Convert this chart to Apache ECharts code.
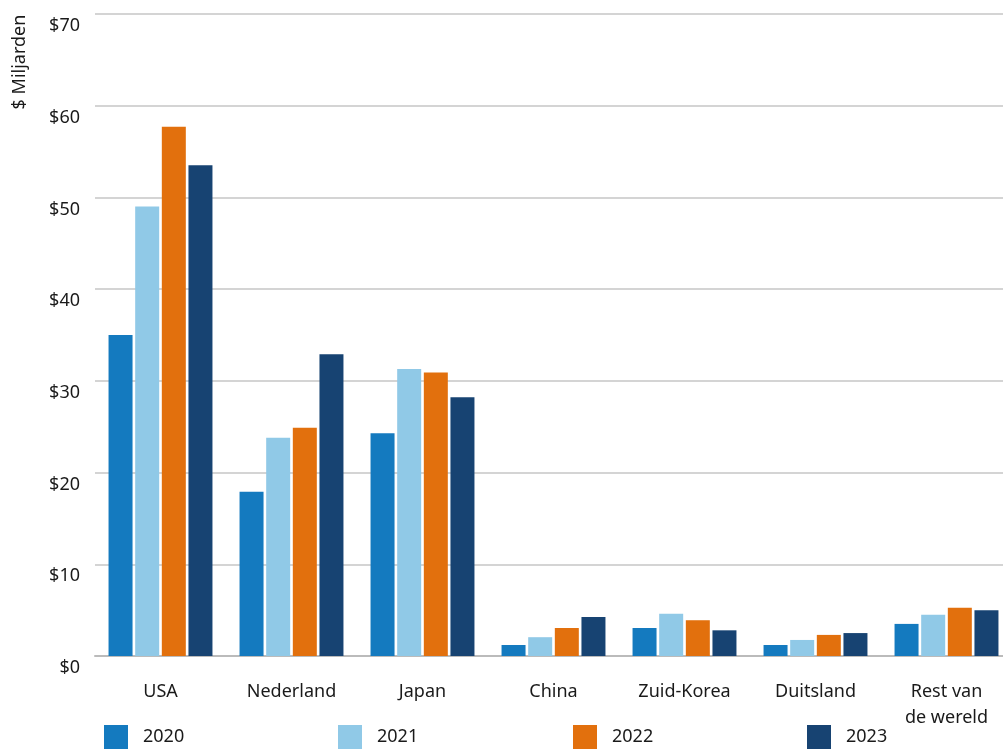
<!DOCTYPE html>
<html>
<head>
<meta charset="utf-8">
<script src="https://cdn.jsdelivr.net/npm/echarts@6/dist/echarts.min.js"></script>
<style>
html, body { margin: 0; padding: 0; background: #fff; }
#chart { width: 1003px; height: 752px; }
</style>
</head>
<body>
<div id="chart"></div>
<script>
// categories and values ($ miljarden)
const landen = ['USA', 'Nederland', 'Japan', 'China', 'Zuid-Korea', 'Duitsland', 'Rest van\nde wereld'];
const jaren = ['2020', '2021', '2022', '2023'];
const v2020 = [35.0, 17.9, 24.3, 1.2, 3.05, 1.2, 3.5];
const v2021 = [49.0, 23.8, 31.3, 2.05, 4.6, 1.75, 4.5];
const v2022 = [57.7, 24.9, 30.9, 3.05, 3.9, 2.3, 5.25];
const v2023 = [53.5, 32.9, 28.2, 4.25, 2.8, 2.5, 5.0];
const yTicks = [0, 10, 20, 30, 40, 50, 60, 70];

const kleuren = ['#147abf', '#90c9e7', '#e2700d', '#174372'];
const waarden = [v2020, v2021, v2022, v2023];
const legendLeft = [104, 338, 573, 807];
const font = 'Noto Sans';

const chart = echarts.init(document.getElementById('chart'));
const option = {
    animation: false,
    textStyle: { fontFamily: font, color: '#1a1a1a' },
    // plot runs a little past the right edge, as in the original
    grid: { left: 95, right: -9, top: 14, bottom: 96, outerBoundsMode: 'none' },
    legend: jaren.map((j, i) => ({
        data: [j],
        left: legendLeft[i],
        top: 725,
        itemWidth: 24,
        itemHeight: 24,
        icon: 'rect',
        padding: 0,
        textStyle: { fontFamily: font, fontSize: 18, color: '#1a1a1a', padding: [2, 0, 0, 10] }
    })),
    graphic: [{
        type: 'text',
        x: 20,
        y: 62,
        rotation: Math.PI / 2,
        style: {
            text: '$ Miljarden',
            font: '18px "Noto Sans"',
            fill: '#1a1a1a',
            textAlign: 'center',
            textVerticalAlign: 'middle'
        }
    }],
    xAxis: {
        type: 'category',
        data: landen,
        axisLine: { lineStyle: { color: '#bbbbbb', width: 2 } },
        axisTick: { show: false },
        axisLabel: {
            interval: 0,
            margin: 23,
            fontSize: 18,
            lineHeight: 26,
            color: '#1a1a1a',
            fontFamily: font
        }
    },
    yAxis: {
        type: 'value',
        min: yTicks[0],
        max: yTicks[yTicks.length - 1],
        interval: 10,
        axisLine: { show: false },
        axisTick: { show: false },
        splitLine: { lineStyle: { color: '#c6c6c6', width: 1.5 } },
        axisLabel: {
            formatter: v => '$' + v,
            margin: 15,
            fontSize: 18,
            verticalAlign: 'top',
            padding: [3, 0, 0, 0],
            color: '#1a1a1a',
            fontFamily: font
        }
    },
    series: jaren.map((j, i) => ({
        name: j,
        type: 'bar',
        data: waarden[i],
        barWidth: 24,
        barGap: '11%',
        itemStyle: { color: kleuren[i] }
    }))
};
chart.setOption(option);
</script>
</body>
</html>
